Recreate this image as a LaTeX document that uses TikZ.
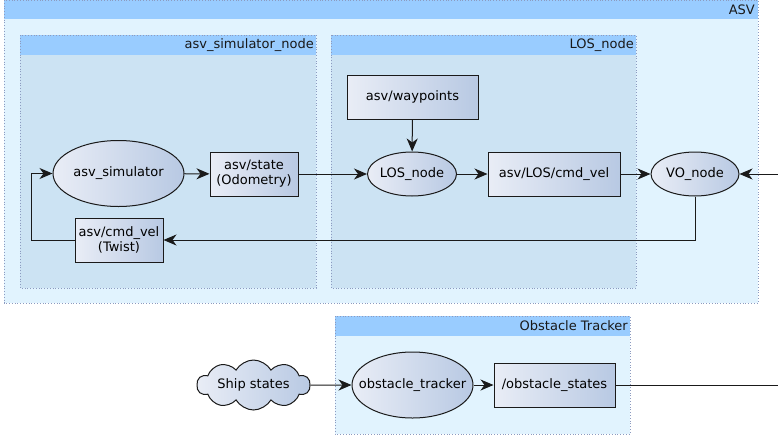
\documentclass[tikz,border=0pt]{standalone}
\usepackage{fontspec}
\setmainfont{DejaVu Sans}
\usetikzlibrary{shapes.geometric,shapes.symbols,arrows.meta}
\definecolor{hdr}{HTML}{99CCFF}
\definecolor{outerfill}{HTML}{E1F3FE}
\definecolor{innerfill}{HTML}{CCE3F3}
\definecolor{dotc}{HTML}{8C9BC0}
\definecolor{gl}{HTML}{E9EDF6}
\definecolor{gr}{HTML}{B8C9E3}
\definecolor{ln}{HTML}{1A1A1A}
\begin{document}
\begin{tikzpicture}[x=1pt,y=-1pt,font=\fontsize{13}{15}\selectfont,
  base/.style={draw=ln,line width=1pt,left color=gl,right color=gr,inner sep=0pt,align=center},
  topic/.style={base,rectangle},
  proc/.style={base,ellipse},
  conn/.style={draw=ln,line width=1pt},
  arr/.style={conn,-{Stealth[length=13pt,width=11pt,inset=4pt]}},
  frame/.style={dotc,dotted,line width=0.8pt},
  hlabel/.style={anchor=east,inner sep=0pt,text=black!90}]
\useasboundingbox (0,0) rectangle (778,439);
% ASV container
\fill[outerfill] (4,0) rectangle (758,303);
\fill[hdr] (4,0) rectangle (758,19);
\draw[frame] (4,0) rectangle (758,303);
\node[hlabel] (lasv) at (755,9.5) {ASV};
% asv_simulator_node container
\fill[innerfill] (20,35) rectangle (316,288);
\fill[hdr] (20,35) rectangle (316,55);
\draw[frame] (20,35) rectangle (316,288);
\node[hlabel] (lsim) at (314,45) {asv\_simulator\_node};
% LOS_node container
\fill[innerfill] (331,35) rectangle (636,288);
\fill[hdr] (331,35) rectangle (636,55);
\draw[frame] (331,35) rectangle (636,288);
\node[hlabel] (llos) at (634,45) {LOS\_node};
% Obstacle Tracker container
\fill[outerfill] (335,316) rectangle (630,434);
\fill[hdr] (335,316) rectangle (630,336);
\draw[frame] (335,316) rectangle (630,434);
\node[hlabel] (lobs) at (628,326) {Obstacle Tracker};
% nodes
\node[topic,minimum width=131pt,minimum height=44pt] (wp) at (412.5,97) {asv/waypoints};
\node[proc,minimum width=131pt,minimum height=66pt] (sim) at (118.5,173.5) {\makebox[0pt]{asv\_simulator}};
\node[topic,minimum width=88pt,minimum height=44pt] (state) at (254,174) {asv/state\\(Odometry)};
\node[proc,minimum width=89pt,minimum height=44pt] (los) at (412,174) {\makebox[0pt]{LOS\_node}};
\node[topic,minimum width=132pt,minimum height=44pt] (loscmd) at (554,174) {asv/LOS/cmd\_vel};
\node[proc,minimum width=88pt,minimum height=44pt] (vo) at (695,174) {\makebox[0pt]{VO\_node}};
\node[topic,minimum width=88pt,minimum height=44pt] (cmd) at (119,240) {asv/cmd\_vel\\(Twist)};
\node[base,cloud,cloud puffs=10,cloud puff arc=120,aspect=2.3,minimum width=113pt,minimum height=50pt] (ship) at (253.5,385) {\makebox[0pt]{Ship states}};
\node[proc,minimum width=121pt,minimum height=66pt] (tracker) at (412.5,385) {\makebox[0pt]{obstacle\_tracker}};
\node[topic,minimum width=121pt,minimum height=44pt] (obst) at (554.5,385) {/obstacle\_states};
\coordinate (rin) at (778,174);
\coordinate (rout) at (778,385);
% connectors
\draw[arr] (sim) -- (state);
\draw[arr] (state) -- (los);
\draw[arr] (wp) -- (los);
\draw[arr] (los) -- (loscmd);
\draw[arr] (loscmd) -- (vo);
\draw[arr] (rin) -- (vo);
\draw[arr] (vo.south) |- (cmd.east);
\draw[arr] (cmd.west) -- ++(-43,0) |- (sim.west);
\draw[arr] (ship) -- (tracker);
\draw[arr] (tracker) -- (obst);
\draw[conn] (obst) -- (rout);
\end{tikzpicture}
\end{document}
